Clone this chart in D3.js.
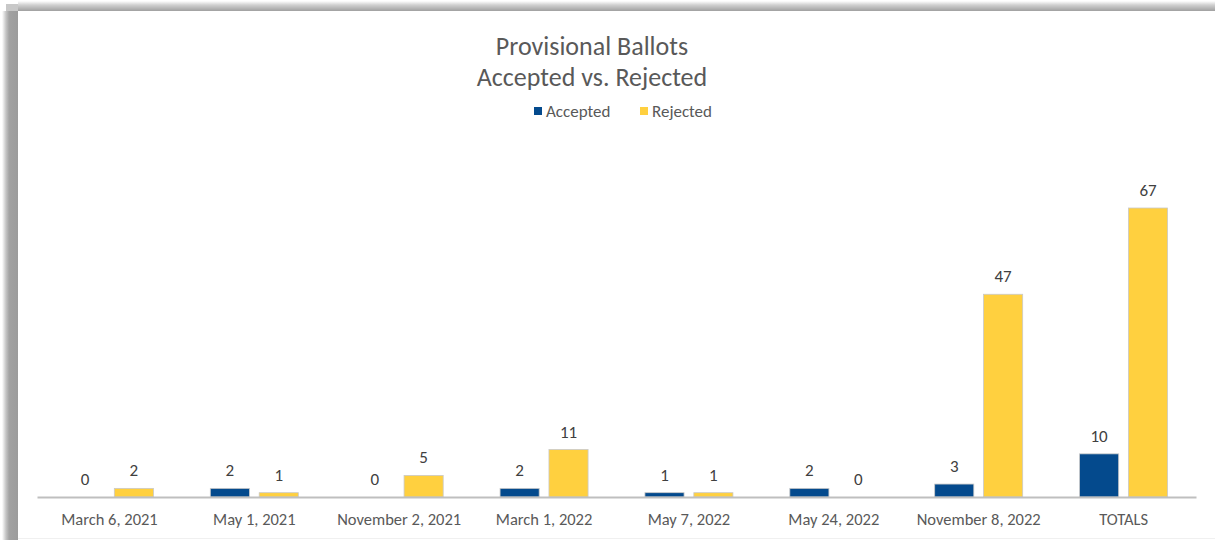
<!DOCTYPE html>
<html><head><meta charset="utf-8">
<script src="https://cdn.jsdelivr.net/npm/d3@7"></script>
<style>
html,body{margin:0;padding:0;background:#fff;}
svg{display:block;font-family:Calibri,Carlito,"Liberation Sans","Open Sans",sans-serif;}
</style></head>
<body>
<svg id="chart" width="1215" height="540"></svg>
<script>
const categories = ["March 6, 2021","May 1, 2021","November 2, 2021","March 1, 2022","May 7, 2022","May 24, 2022","November 8, 2022","TOTALS"];
const accepted = [0,2,0,2,1,2,3,10];
const rejected = [2,1,5,11,1,0,47,67];
const seriesNames = ["Accepted","Rejected"];
const seriesColors = ["#044A8D","#FFD03F"];
const titleLines = ["Provisional Ballots","Accepted vs. Rejected"];

const FONT = 'Calibri,Carlito,"Liberation Sans","Open Sans",sans-serif';
const svg = d3.select("#chart");
const defs = svg.append("defs");
const gl = defs.append("linearGradient").attr("id","gl").attr("x1","0").attr("x2","1").attr("y1","0").attr("y2","0");
gl.append("stop").attr("offset","0").attr("stop-color","#fff");
gl.append("stop").attr("offset","0.25").attr("stop-color","#c4c4c4");
gl.append("stop").attr("offset","0.45").attr("stop-color","#a2a2a2");
gl.append("stop").attr("offset","1").attr("stop-color","#9c9c9c");
const gt = defs.append("linearGradient").attr("id","gt").attr("x1","0").attr("x2","0").attr("y1","0").attr("y2","1");
gt.append("stop").attr("offset","0").attr("stop-color","#fff");
gt.append("stop").attr("offset","0.4").attr("stop-color","#d0d0d0");
gt.append("stop").attr("offset","1").attr("stop-color","#a0a0a0");

// shadow frame
svg.append("rect").attr("x",2).attr("y",11).attr("width",16).attr("height",540).attr("fill","url(#gl)");
svg.append("rect").attr("x",18).attr("y",1).attr("width",1197).attr("height",10).attr("fill","url(#gt)");
svg.append("rect").attr("x",6).attr("y",4).attr("width",12).attr("height",7).attr("fill","#b0b0b0").attr("opacity",0.7);
svg.append("rect").attr("x",18).attr("y",11).attr("width",1197).attr("height",527).attr("fill","#fff");
svg.append("line").attr("x1",18).attr("x2",1215).attr("y1",538.5).attr("y2",538.5).attr("stroke","#f0f0f0");

const x0 = d3.scaleBand().domain(categories).range([37,1196]).paddingInner(0).paddingOuter(0);
const x1 = d3.scaleBand().domain(seriesNames).range([x0.bandwidth()/2-44, x0.bandwidth()/2+44]).paddingInner(0.2);
const y = d3.scaleLinear().domain([0,67]).range([497,208]);

// title
svg.append("g").selectAll("text").data(titleLines).join("text")
  .attr("x",592).attr("y",(d,i)=>55+i*31).attr("text-anchor","middle")
  .attr("font-size",26).attr("fill","#595959").text(d=>d);

// legend
const legX = [534,640];
const lg = svg.append("g").selectAll("g").data(seriesNames).join("g")
  .attr("transform",(d,i)=>`translate(${legX[i]},111)`);
lg.append("rect").attr("x",0).attr("y",-4).attr("width",8).attr("height",8).attr("fill",(d,i)=>seriesColors[i]);
lg.append("text").attr("x",12).attr("y",6).attr("font-size",17).attr("fill","#595959").text(d=>d);

// bars
const data = categories.map((c,i)=>({cat:c, vals:[accepted[i],rejected[i]]}));
const groups = svg.append("g").selectAll("g").data(data).join("g")
  .attr("transform",d=>`translate(${x0(d.cat)},0)`);
groups.selectAll("rect").data(d=>d.vals.map((v,j)=>({s:seriesNames[j],v,j}))).join("rect")
  .attr("x",d=>x1(d.s)).attr("width",x1.bandwidth())
  .attr("y",d=>y(d.v)).attr("height",d=>y(0)-y(d.v))
  .attr("fill",d=>seriesColors[d.j])
  .attr("stroke",d=>d.v>0?"#c9c9c9":"none").attr("stroke-width",0.8);
groups.selectAll("text").data(d=>d.vals.map((v,j)=>({s:seriesNames[j],v,j}))).join("text")
  .attr("x",d=>x1(d.s)+x1.bandwidth()/2).attr("y",d=>y(d.v)-12)
  .attr("text-anchor","middle").attr("font-size",17).attr("fill","#404040").text(d=>d.v);

// axis
const ax = svg.append("g").attr("transform","translate(0,497)").call(d3.axisBottom(x0).tickSize(0).tickPadding(16));
ax.attr("font-family",FONT).attr("font-size",16.5);
ax.select(".domain").attr("stroke","#bfbfbf").attr("stroke-width",2);
ax.selectAll("text").attr("fill","#595959");
</script>
</body></html>
